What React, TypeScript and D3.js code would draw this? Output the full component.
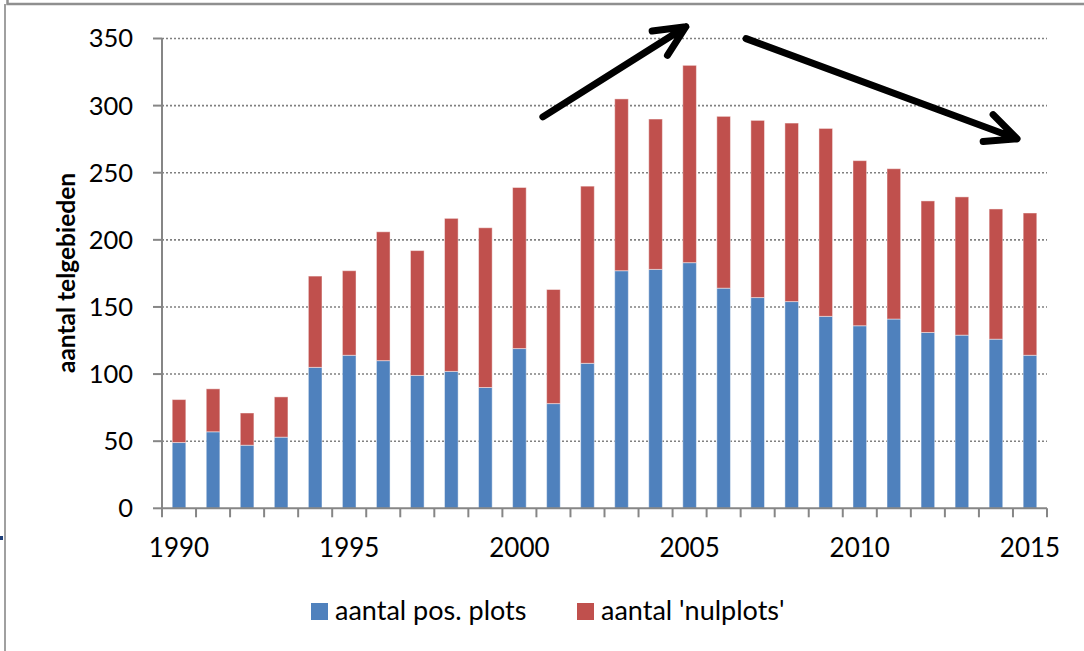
import React from "react";
import * as d3 from "d3";

const years = d3.range(1990, 2016);
const posPlots = [49, 57, 47, 53, 105, 114, 110, 99, 102, 90, 119, 78, 108, 177, 178, 183, 164, 157, 154, 143, 136, 141, 131, 129, 126, 114];
const nulPlots = [32, 32, 24, 30, 68, 63, 96, 93, 114, 119, 120, 85, 132, 128, 112, 147, 128, 132, 133, 140, 123, 112, 98, 103, 97, 106];
const yTicks = [0, 50, 100, 150, 200, 250, 300, 350];
const xLabels = [1990, 1995, 2000, 2005, 2010, 2015];
const seriesNames = ["aantal pos. plots", "aantal 'nulplots'"];
const seriesColors = ["#4F81BD", "#C0504D"];

// trend arrows, in (band position, value) units
const arrows = [
  { from: [11.19, 291.6], to: [15.39, 358.8] },
  { from: [17.16, 349.9], to: [25.12, 275.3] },
];

const W = 1084;
const H = 651;
const font = "Lato, 'Open Sans', sans-serif";

export default function App() {
  const left = 162, right = 1047, top = 38.5, bottom = 508.3;

  const x = d3.scaleBand<number>().domain(years).range([left, right]).paddingInner(0.6).paddingOuter(0.3);
  const y = d3.scaleLinear().domain([0, 350]).range([bottom, top]);
  const pos = (t: number) => left + t * x.step();

  const rows = years.map((yr, i) => ({ year: yr, pos: posPlots[i], nul: nulPlots[i] }));
  const stacked = d3.stack<any>().keys(["pos", "nul"])(rows);

  const arrowPath = (a) => {
    const x0 = pos(a.from[0]), y0 = y(a.from[1]);
    const x1 = pos(a.to[0]), y1 = y(a.to[1]);
    const ang = Math.atan2(y1 - y0, x1 - x0) + Math.PI;
    const len = 34, spread = (25 * Math.PI) / 180;
    const b1 = [x1 + len * Math.cos(ang + spread), y1 + len * Math.sin(ang + spread)];
    const b2 = [x1 + len * Math.cos(ang - spread), y1 + len * Math.sin(ang - spread)];
    return `M${x0},${y0}L${x1},${y1}M${b1[0]},${b1[1]}L${x1},${y1}L${b2[0]},${b2[1]}`;
  };

  return (
    <svg width={W} height={H} style={{ position: "absolute", left: 0, top: 0, background: "#fff" }} fontFamily={font}>
      {/* frame */}
      <path d={`M7.5,0V4H${W}`} fill="none" stroke="#8f8f8f" strokeWidth={2.5} />
      <line x1={5} y1={4} x2={5} y2={H} stroke="#a0a0a0" strokeWidth={2} />
      <rect x={0} y={536} width={3} height={4} fill="#1f3f7a" />

      {/* gridlines */}
      {yTicks.filter(t => t > 0).map(t => (
        <line key={t} x1={left} x2={right} y1={y(t)} y2={y(t)} stroke="#808080" strokeWidth={1.6} strokeDasharray="2 2" />
      ))}

      {/* bars */}
      {stacked.map((s, si) => (
        <g key={si} fill={seriesColors[si]}>
          {s.map((d, i) => (
            <rect key={i} x={x(years[i])} width={x.bandwidth()} y={y(d[1])} height={y(d[0]) - y(d[1])}
              stroke="#ffffff" strokeOpacity={0.45} strokeWidth={1} />
          ))}
        </g>
      ))}

      {/* y axis */}
      <line x1={left} x2={left} y1={top} y2={bottom} stroke="#868686" strokeWidth={2} />
      {yTicks.map(t => (
        <g key={t}>
          <line x1={left - 9} x2={left} y1={y(t)} y2={y(t)} stroke="#868686" strokeWidth={2} />
          <text x={133} y={y(t)} dy="0.35em" textAnchor="end" fontSize={25.5} fill="#000">{t}</text>
        </g>
      ))}
      <text transform={`translate(66,${273}) rotate(-90)`} textAnchor="middle" fontSize={24.5} fontWeight="bold" dy="0.35em">
        aantal telgebieden
      </text>

      {/* x axis */}
      <line x1={left} x2={right} y1={bottom} y2={bottom} stroke="#868686" strokeWidth={2} />
      {d3.range(years.length + 1).map(i => (
        <line key={i} x1={pos(i)} x2={pos(i)} y1={bottom} y2={bottom + 9} stroke="#868686" strokeWidth={2} />
      ))}
      {xLabels.map(yr => (
        <text key={yr} x={x(yr)! + x.bandwidth() / 2} y={548} dy="0.35em" textAnchor="middle" fontSize={26}>{yr}</text>
      ))}

      {/* legend */}
      {seriesNames.map((name, i) => {
        const lx = [311, 577][i];
        return (
          <g key={name}>
            <rect x={lx} y={603} width={17} height={17} fill={seriesColors[i]} />
            <text x={lx + 24} y={611} dy="0.35em" fontSize={27}>{name}</text>
          </g>
        );
      })}

      {/* trend arrows */}
      {arrows.map((a, i) => (
        <path key={i} d={arrowPath(a)} fill="none" stroke="#000" strokeWidth={7} strokeLinecap="round" strokeLinejoin="round" />
      ))}
    </svg>
  );
}
